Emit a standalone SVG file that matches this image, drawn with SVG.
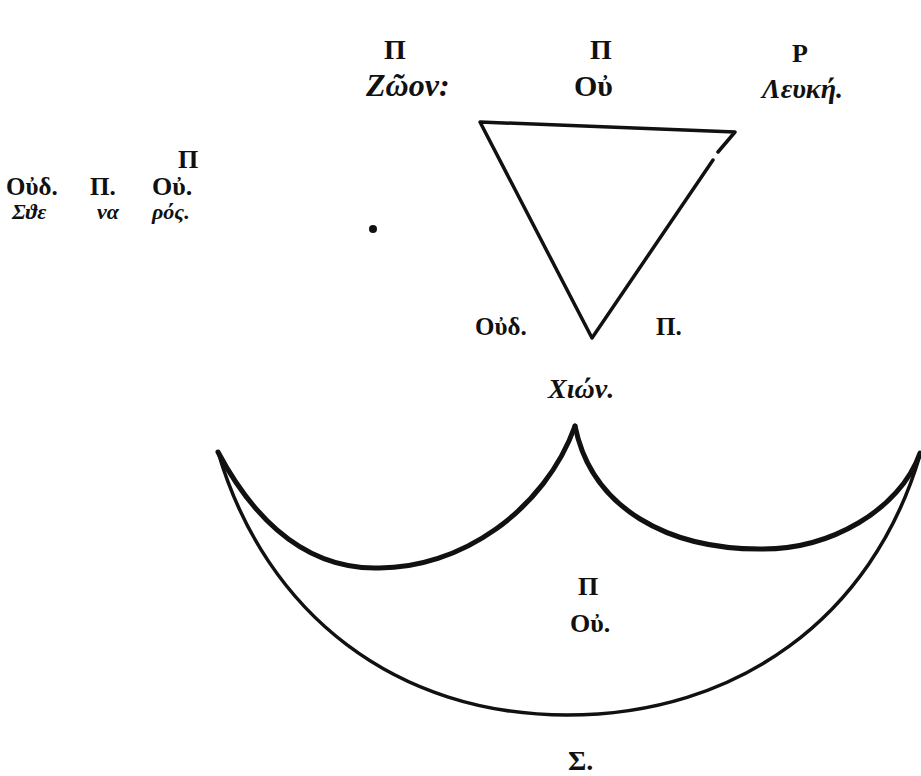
<svg xmlns="http://www.w3.org/2000/svg" width="921" height="776" viewBox="0 0 921 776">
<style>
.t{font-family:"Liberation Serif","DejaVu Serif",serif;font-weight:bold;fill:#111;}
.i{font-style:italic;}
.ln{fill:none;stroke:#111;stroke-linecap:round;stroke-linejoin:round;}
</style>
<rect width="921" height="776" fill="#fff"/>
<g id="connectors">
<path id="triangle" class="ln" stroke-width="3.5" d="M718,152 L735,132 L480,122 L592,338 L713,160"/>
<path id="outer-arc" class="ln" stroke-width="3.5" d="M218,452 C266,615 397,715 567,715 C737,715 872,618 920,455"/>
<path id="inner-left-arc" class="ln" stroke-width="5" d="M218,452 C246,505 295,568 375,568 C460,570 545,510 575,426"/>
<path id="inner-right-arc" class="ln" stroke-width="5" d="M575,426 C592,510 670,549 760,549 C830,550 900,510 920,453"/>
</g>
<g id="label-top-left">
<text class="t" x="395" y="59" font-size="28" text-anchor="middle">Π</text>
<text class="t i" x="366" y="96" font-size="32">Ζῶον:</text>
</g>
<g id="label-top-middle">
<text class="t" x="601" y="59" font-size="28" text-anchor="middle">Π</text>
<text class="t" x="574" y="96" font-size="30">Οὐ</text>
</g>
<g id="label-top-right">
<text class="t" x="800" y="62" font-size="26" text-anchor="middle">Ρ</text>
<text class="t i" x="762" y="98" font-size="28">Λευκή.</text>
</g>
<g id="label-left">
<text class="t" x="188" y="168" font-size="26" text-anchor="middle">Π</text>
<text class="t" x="6" y="195" font-size="25">Οὐδ.</text>
<text class="t" x="90" y="195" font-size="25">Π.</text>
<text class="t" x="152" y="195" font-size="26">Οὐ.</text>
<text class="t i" x="12" y="219" font-size="22">Σϑε</text>
<text class="t i" x="97" y="219" font-size="22">να</text>
<text class="t i" x="152" y="219" font-size="22">ρός.</text>
</g>
<g id="dot"><circle cx="373" cy="229" r="4" fill="#111"/></g>
<g id="label-triangle-bottom">
<text class="t" x="475" y="335" font-size="25">Οὐδ.</text>
<text class="t" x="656" y="335" font-size="25">Π.</text>
</g>
<g id="label-chion">
<text class="t i" x="548" y="398" font-size="28">Χιών.</text>
</g>
<g id="label-crescent">
<text class="t" x="588" y="595" font-size="26" text-anchor="middle">Π</text>
<text class="t" x="570" y="632" font-size="26">Οὐ.</text>
</g>
<g id="label-bottom">
<text class="t" x="568" y="770" font-size="28">Σ.</text>
</g>
</svg>
